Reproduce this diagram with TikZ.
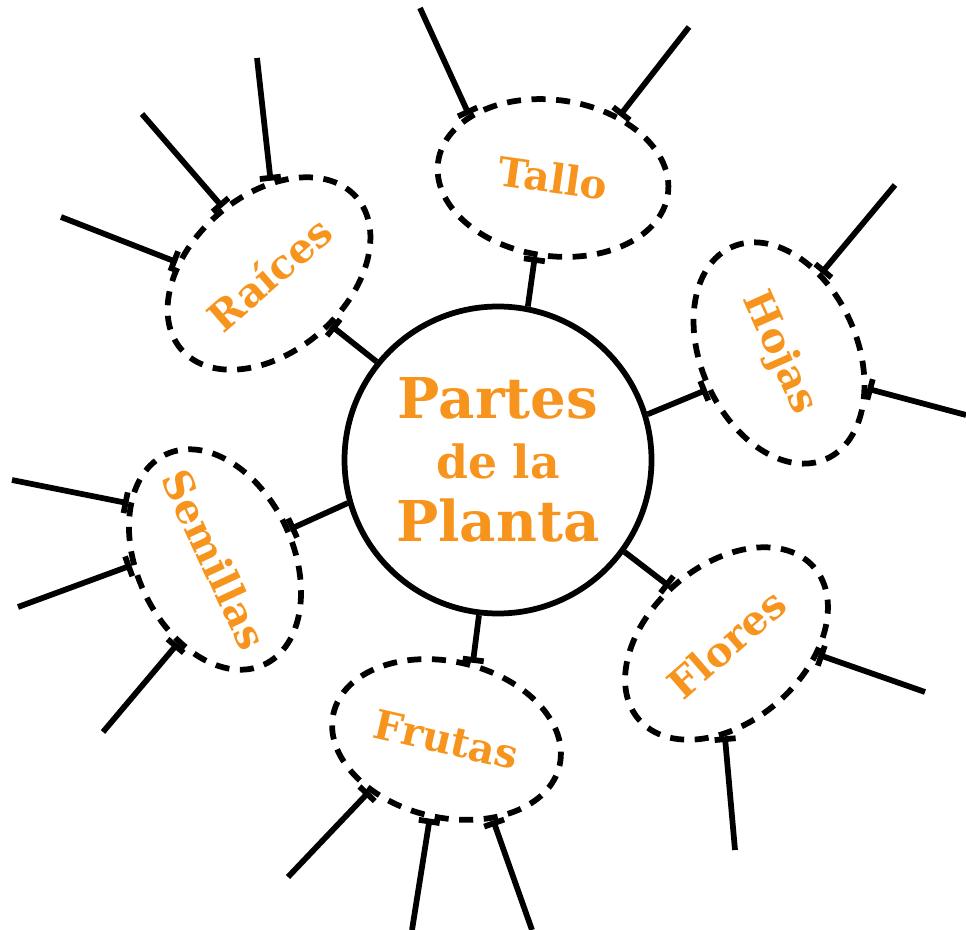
\documentclass[tikz,border=0pt]{standalone}
\usepackage{fontspec}
\setmainfont{DejaVu Serif}
\usepackage{tikz}
\usetikzlibrary{arrows.meta, shapes.geometric}
\definecolor{planta}{RGB}{247, 148, 29}

\begin{document}
\begin{tikzpicture}[
    part/.style={ellipse, draw=black, line width=0.115cm, dash pattern=on 8pt off 6pt, minimum width=4.64cm, minimum height=3.12cm, inner sep=0pt, text=planta, font=\bfseries\fontsize{23}{28}\selectfont},
    hub/.style={circle, draw=black, line width=0.115cm, minimum size=6.14cm, inner sep=0pt, align=center, text=planta, font=\bfseries\fontsize{32}{38}\selectfont},
    link/.style={-{Bar[width=12pt]}, line width=0.115cm},
    twig/.style={{Bar[width=12pt]}-, line width=0.115cm}
  ]
  \useasboundingbox (0,0) rectangle (19.32,-18.6);

  % Hub
  \node[hub] (plant) at (9.96,-9.20) {Partes\\[-4pt]{\fontsize{26}{32}\selectfont de la}\\[-2pt]Planta};

  % Parts
  \foreach \name/\txt/\pos/\rot in {%
    tallo/Tallo/{11.06,-3.56}/-8,
    hojas/Hojas/{15.58,-7.06}/-66,
    flores/Flores/{14.53,-12.87}/41,
    frutas/Frutas/{8.93,-14.79}/-13,
    semillas/Semillas/{4.30,-11.19}/-65,
    raices/Raíces/{5.38,-5.47}/41} {
    \node[part, rotate=\rot] (\name) at (\pos) {\makebox[0pt]{\txt}};
  }

  % Links to the hub
  \foreach \name/\a/\b in {tallo/79/265, hojas/17/273, flores/-36/94, frutas/-97/84, semillas/196/87, raices/141/-81} {
    \draw[link] (plant.\a) -- (\name.\b);
  }

  % Twigs
  \foreach \name/\b/\pt [count=\i] in {%
    tallo/151/{8.40,-0.16}, tallo/51/{13.78,-0.54},
    hojas/128/{17.90,-3.70}, hojas/44/{19.32,-8.30},
    flores/-48/{18.50,-13.84}, flores/-132/{14.70,-17.00},
    frutas/227/{5.76,-17.54}, frutas/271/{8.24,-18.60}, frutas/-47/{10.64,-18.60},
    semillas/212/{0.24,-9.60}, semillas/249/{0.36,-12.14}, semillas/311/{2.06,-14.64},
    raices/132/{1.22,-4.34}, raices/84/{2.84,-2.28}, raices/48/{5.14,-1.16}} {
    \coordinate (tip\i) at (\pt);
    \draw[twig] (\name.\b) -- (tip\i);
  }

\end{tikzpicture}
\end{document}
